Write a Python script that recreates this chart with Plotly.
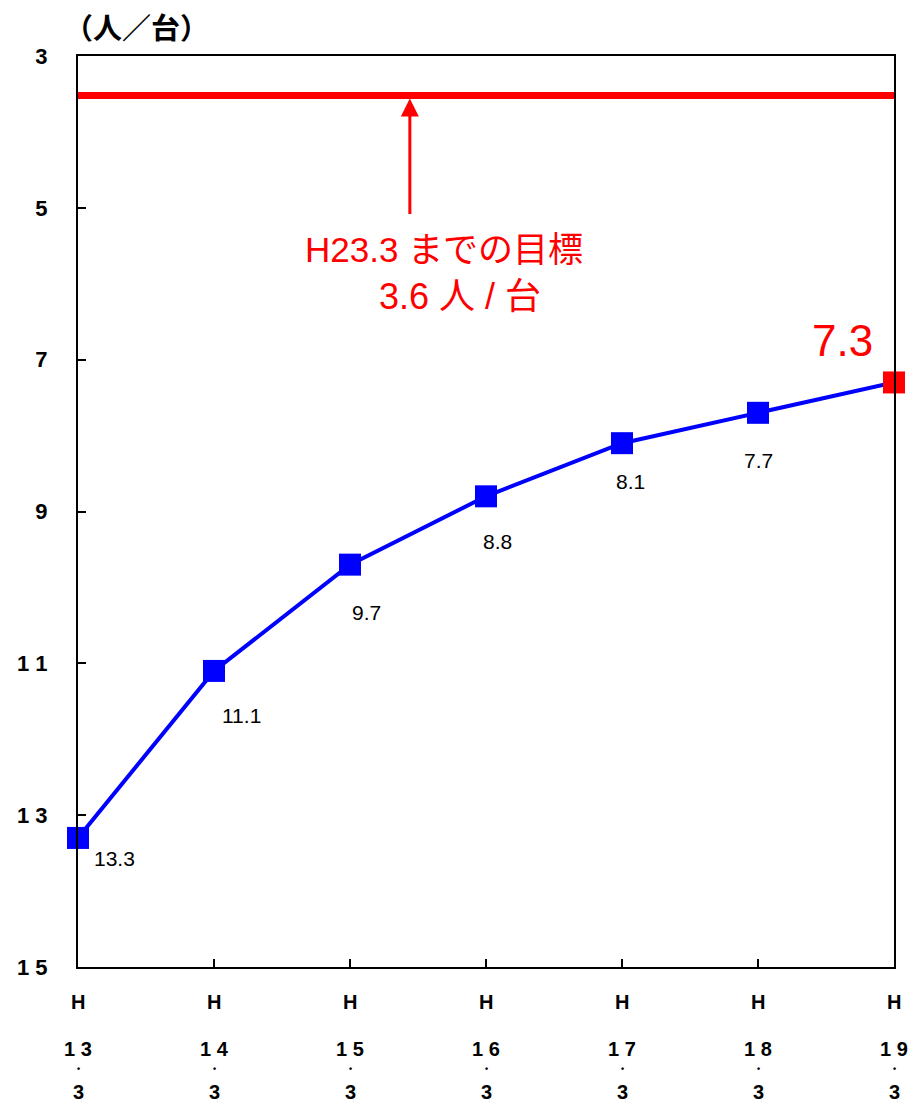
import plotly.graph_objects as go

categories = ["H13.3", "H14.3", "H15.3", "H16.3", "H17.3", "H18.3", "H19.3"]
era_labels = ["1 3", "1 4", "1 5", "1 6", "1 7", "1 8", "1 9"]
values = [13.3, 11.1, 9.7, 8.8, 8.1, 7.7, 7.3]
value_labels = ["13.3", "11.1", "9.7", "8.8", "8.1", "7.7"]
target_line = 3.52
y_ticks = [3, 5, 7, 9, 11, 13, 15]
y_ticktext = ["3", "5", "7", "9", "1 1", "1 3", "1 5"]

x = list(range(len(categories)))
CJK = "Liberation Sans, Noto Sans CJK JP"

fig = go.Figure()
fig.add_trace(go.Scatter(x=[x[0], x[-1]], y=[target_line, target_line], mode="lines",
                         line=dict(color="#FF0000", width=7), hoverinfo="skip", cliponaxis=False))
fig.add_trace(go.Scatter(x=x, y=values, mode="lines+markers",
                         line=dict(color="#0000FF", width=4),
                         marker=dict(symbol="square", size=22, color=["#0000FF"] * 6 + ["#FF0000"]),
                         cliponaxis=False))

ann = []
offsets = [(36, -21), (27, -45), (16, -48), (11, -45), (8, -38), (0, -48)]
for i, lbl in enumerate(value_labels):
    dx, dy = offsets[i]
    ann.append(dict(x=x[i], y=values[i], xref="x", yref="y", text=lbl, showarrow=False,
                    xshift=dx, yshift=dy, font=dict(family="Liberation Sans", size=21, color="#000")))
ann.append(dict(x=x[6], y=values[6], xref="x", yref="y", text="7.3", showarrow=False,
                xshift=-52, yshift=42, font=dict(family="Liberation Sans", size=44, color="#FF0000")))
ann.append(dict(x=2.44, y=3.56, ax=2.44, ay=5.1, xref="x", yref="y", axref="x", ayref="y",
                text="", showarrow=True, arrowhead=2, arrowsize=1.2, arrowwidth=3, arrowcolor="#FF0000"))
ann.append(dict(x=2.69, y=5.55, xref="x", yref="y", text="H23.3 までの目標", showarrow=False,
                font=dict(family=CJK, size=35, color="#FF0000")))
ann.append(dict(x=2.81, y=6.17, xref="x", yref="y", text="3.6 人 / 台", showarrow=False,
                font=dict(family=CJK, size=36, color="#FF0000")))
ann.append(dict(x=0, y=1, xref="paper", yref="paper", text="<b>（人／台）</b>", showarrow=False,
                xanchor="left", yanchor="middle", xshift=-16, yshift=30,
                font=dict(family="Noto Sans CJK JP", size=29, color="#000")))
for i in x:
    for txt, ys, sz in [("H", -35, 20), (era_labels[i], -82, 20), ("•", -102, 9), ("3", -125, 20)]:
        ann.append(dict(x=i, y=0, xref="x", yref="paper", text=f"<b>{txt}</b>", showarrow=False,
                        yanchor="middle", yshift=ys,
                        font=dict(family="Liberation Sans", size=sz, color="#000")))

fig.update_layout(
    width=916, height=1105,
    margin=dict(l=78, r=22, t=56, b=138),
    plot_bgcolor="white", paper_bgcolor="white",
    showlegend=False,
    annotations=ann,
    xaxis=dict(range=[0, 6], tickvals=x, ticktext=[""] * 7, showgrid=False, zeroline=False,
               showline=True, linecolor="#000", linewidth=2, mirror=True,
               ticks="inside", ticklen=8, tickcolor="#000", tickwidth=1.5),
    yaxis=dict(range=[15, 3], tickvals=y_ticks, ticktext=y_ticktext, showgrid=False, zeroline=False,
               showline=True, linecolor="#000", linewidth=2, mirror=True,
               ticks="inside", ticklen=8, tickcolor="#000", tickwidth=1.5,
               ticklabelstandoff=24,
               tickfont=dict(family="Liberation Sans", size=22, color="#000", weight="bold")),
)
fig.write_html("out.html", config={"displayModeBar": False},
               post_script="document.body.style.margin='0px';document.body.style.overflow='hidden';")
